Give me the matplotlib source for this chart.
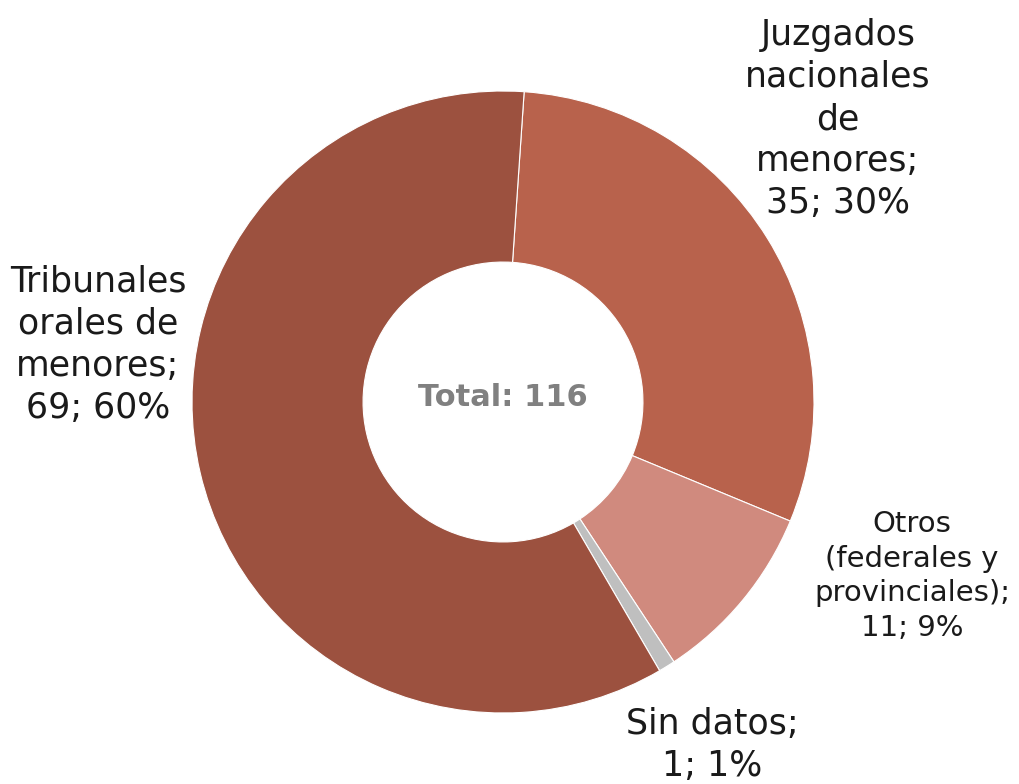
import matplotlib
matplotlib.use('Agg')
import matplotlib.pyplot as plt

# data
categories = ['Juzgados\nnacionales\nde\nmenores', 'Otros\n(federales y\nprovinciales)', 'Sin datos', 'Tribunales\norales de\nmenores']
values = [35, 11, 1, 69]
percents = [30, 9, 1, 60]
colors = ['#B8624C', '#D08A7E', '#BFBFBF', '#9C513F']
total = sum(values)

W, H = 1019, 784
fig = plt.figure(figsize=(W / 100, H / 100), dpi=100)
ax = fig.add_axes([0, 0, 1, 1])

cx, cy, r = 503, H - 402, 311
ax.pie(values, colors=colors, startangle=86.1, counterclock=False,
       center=(cx, cy), radius=r,
       wedgeprops=dict(width=r * 0.55, edgecolor='white', linewidth=0.8))

ax.set_xlim(0, W)
ax.set_ylim(0, H)
ax.set_aspect('equal')
ax.axis('off')

font = 'DejaVu Sans'
# label positions (pixel coords of text centres)
label_pos = [(838, 119, 25), (912, 576, 21), (712, 745, 25), (98, 345, 25)]
for name, v, p, (x, y, fs) in zip(categories, values, percents, label_pos):
    ax.text(x, H - y, f'{name};\n{v}; {p}%', ha='center', va='center',
            fontsize=fs, family=font, color='#1a1a1a', linespacing=1.3)

ax.text(cx, H - 397, f'Total: {total}', ha='center', va='center',
        fontsize=22, fontweight='bold', family=font, color='#808080')

fig.savefig('out.png', dpi=100)
